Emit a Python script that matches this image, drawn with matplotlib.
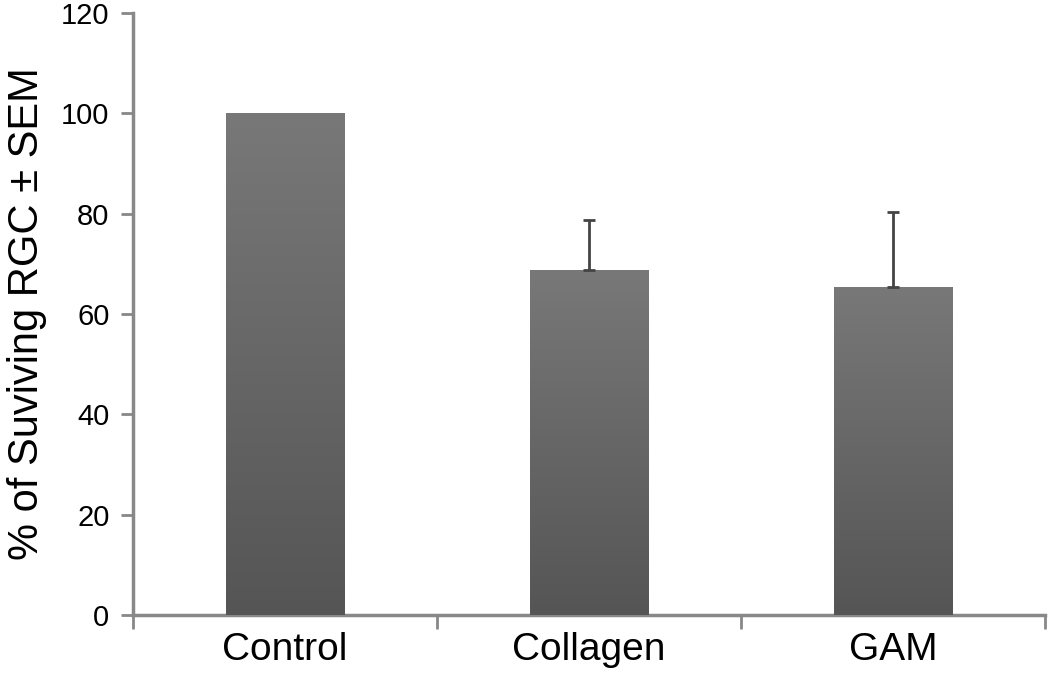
import numpy as np
import matplotlib
matplotlib.use('Agg')
import matplotlib.pyplot as plt

plt.rcParams['font.family'] = ['Liberation Sans', 'DejaVu Sans']

# data
groups = ['Control', 'Collagen', 'GAM']
surv = [100, 68.7, 65.4]
sem = [0, 10, 15]

fig = plt.figure(figsize=(10.5, 6.82), dpi=100)
ax = fig.add_axes([133/1050, 67/682, 912/1050, 602/682])

x = np.arange(len(groups))
bars = ax.bar(x, surv, width=0.39, color='#666666', zorder=2)

# vertical gradient on each bar
grad = np.linspace(0, 1, 256).reshape(-1, 1)
cmap = matplotlib.colors.LinearSegmentedColormap.from_list('g', ['#555555', '#787878'])
for b in bars:
    x0, y0 = b.get_x(), b.get_y()
    im = ax.imshow(grad, extent=[x0, x0 + b.get_width(), y0, y0 + b.get_height()],
                   origin='lower', aspect='auto', cmap=cmap, zorder=3)
    im.set_clip_path(b)

# upper error bars only
for xi, v, e in zip(x, surv, sem):
    if e > 0:
        ax.errorbar(xi, v, yerr=[[0], [e]], fmt='none', ecolor='#444444',
                    elinewidth=2, capsize=4, capthick=2, zorder=4)

ax.set_xlim(-0.5, 2.5)
ax.set_ylim(0, 120)
ax.set_yticks(range(0, 121, 20))
ax.set_xticks(x)
ax.set_xticklabels(groups, fontsize=28)
ax.tick_params(axis='x', length=0, pad=12)
ax.set_xticks([-0.5, 0.5, 1.5, 2.5], minor=True)
ax.tick_params(axis='x', which='minor', length=10, width=2, color='#888888', direction='out')
ax.tick_params(axis='y', labelsize=21, length=9, width=2, color='#888888', pad=8)
ax.set_ylabel('% of Suviving RGC ± SEM', fontsize=30)
ax.yaxis.set_label_coords(-0.094, 0.5)

for s in ['top', 'right']:
    ax.spines[s].set_visible(False)
for s in ['left', 'bottom']:
    ax.spines[s].set_color('#888888')
    ax.spines[s].set_linewidth(2.5)

fig.savefig('out.png', dpi=100)
